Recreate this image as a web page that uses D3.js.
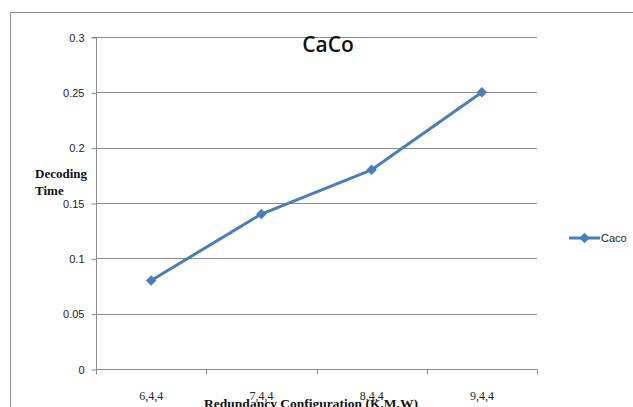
<!DOCTYPE html>
<html><head><meta charset="utf-8">
<script src="https://cdn.jsdelivr.net/npm/d3@7"></script>
<style>body{margin:0;background:#fff;}svg{display:block;}</style>
</head><body>
<script>
const categories = ["6,4,4","7,4,4","8,4,4","9,4,4"];
const cacoValues = [0.08, 0.14, 0.18, 0.25];
const yTicks = [0, 0.05, 0.1, 0.15, 0.2, 0.25, 0.3];
const yTickLabels = ["0","0.05","0.1","0.15","0.2","0.25","0.3"];
const seriesName = "Caco";
const title = "CaCo";

const W = 633, H = 407;
const svg = d3.select("body").append("svg").attr("width", W).attr("height", H);
const grey = "#8c8c8c";
const blue = "#4a7ebb";

// outer chart border
svg.append("rect").attr("x", 10.5).attr("y", 12.5).attr("width", 640).attr("height", 420)
  .attr("fill", "none").attr("stroke", grey).attr("stroke-width", 1);

const L = 96, R = 537, T = 37, B = 369;
const x = d3.scaleBand().domain(categories).range([L, R]);
const y = d3.scaleLinear().domain([0, 0.3]).range([B, T]);

// gridlines
svg.append("g").selectAll("line").data(yTicks.filter(v => v > 0)).join("line")
  .attr("x1", L).attr("x2", R).attr("y1", d => Math.round(y(d)) + 0.5).attr("y2", d => Math.round(y(d)) + 0.5)
  .attr("stroke", grey).attr("stroke-width", 1);

// y axis
const yAxis = d3.axisLeft(y).tickValues(yTicks).tickFormat((d, i) => yTickLabels[i]).tickSize(5).tickPadding(7);
const gy = svg.append("g").attr("transform", `translate(${L + 0.5},0.5)`).call(yAxis);
gy.selectAll("path,line").attr("stroke", grey);
gy.select(".domain").attr("d", `M-5,${T}H0V${B}`);
gy.selectAll("text").attr("font-family", "Liberation Sans, Arial, sans-serif").attr("font-size", 11).attr("fill", "#222");

// x axis
const xAxis = d3.axisBottom(x).tickSize(0).tickPadding(22);
const gx = svg.append("g").attr("transform", `translate(0,${B + 0.5})`).call(xAxis);
gx.select(".domain").attr("stroke", grey).attr("d", `M${L},0H${R}`);
gx.selectAll("text").attr("font-family", "Liberation Serif, Times New Roman, serif").attr("font-size", 12).attr("fill", "#222");
// category boundary ticks
const bounds = categories.map(c => x(c)).concat([R]);
gx.append("g").selectAll("line").data(bounds).join("line")
  .attr("x1", d => Math.round(d) + 0.5).attr("x2", d => Math.round(d) + 0.5)
  .attr("y1", 0).attr("y2", 5).attr("stroke", grey);

// line
const cx = c => x(c) + x.bandwidth() / 2;
const line = d3.line().x((d, i) => cx(categories[i])).y(d => y(d));
svg.append("path").datum(cacoValues).attr("d", line)
  .attr("fill", "none").attr("stroke", blue).attr("stroke-width", 3).attr("stroke-linejoin", "round");

const diamond = d3.symbol().type(d3.symbolDiamond2).size(70);
svg.append("g").selectAll("path").data(cacoValues).join("path")
  .attr("d", diamond)
  .attr("transform", (d, i) => `translate(${cx(categories[i])},${y(d)})`)
  .attr("fill", blue);

// title
svg.append("text").attr("x", 328).attr("y", 52).attr("text-anchor", "middle")
  .attr("font-family", "Open Sans, Liberation Sans, sans-serif").attr("font-size", 21).attr("font-weight", 600)
  .attr("fill", "#111").text(title);

// y-axis title
const yt = svg.append("text").attr("font-family", "Liberation Serif, Times New Roman, serif")
  .attr("font-size", 13).attr("font-weight", "bold").attr("fill", "#111");
yt.append("tspan").attr("x", 35).attr("y", 178).text("Decoding");
yt.append("tspan").attr("x", 35).attr("y", 195).text("Time");

// x-axis title
svg.append("text").attr("x", 311).attr("y", 408).attr("text-anchor", "middle")
  .attr("font-family", "Liberation Serif, Times New Roman, serif").attr("font-size", 13.5).attr("font-weight", "bold")
  .attr("fill", "#111").text("Redundancy Configuration (K,M,W)");

// legend
const lg = svg.append("g").attr("transform", "translate(569,238)");
lg.append("line").attr("x1", 0).attr("x2", 31).attr("y1", 0).attr("y2", 0).attr("stroke", blue).attr("stroke-width", 3);
lg.append("path").attr("d", diamond).attr("transform", "translate(15.5,0)").attr("fill", blue);
lg.append("text").attr("x", 32).attr("y", 4).attr("font-family", "Liberation Sans, Arial, sans-serif")
  .attr("font-size", 11).attr("fill", "#222").text(seriesName);
</script>
</body></html>
